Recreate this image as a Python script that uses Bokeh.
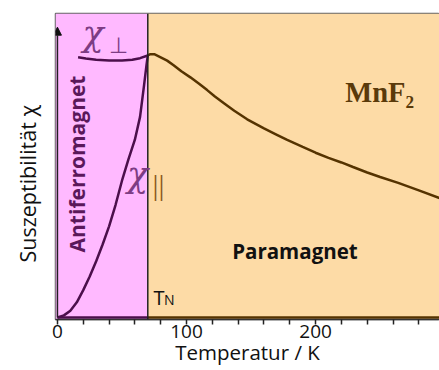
from math import pi
from bokeh.plotting import figure
from bokeh.models import Range1d, Label, Arrow, NormalHead, Span, FixedTicker, Title
from bokeh.embed import file_html
from bokeh.resources import INLINE

# ---- data ----
T_N = 70
x_min, x_max = -1.5, 296
y_min, y_max = -0.0066, 1
x_ticks = [0, 100, 200]
x_minor = [20, 40, 60, 80, 120, 140, 160, 180, 220, 240, 260, 280]

chi_par_T = [0, 5, 10, 15, 20, 25, 30, 35, 40, 45, 50, 55, 60, 64, 67, 69, 70]
chi_par = [0, 0.007, 0.022, 0.050, 0.090, 0.135, 0.185, 0.240, 0.300, 0.370,
           0.450, 0.520, 0.585, 0.660, 0.760, 0.830, 0.862]

chi_perp_T = [16, 22, 30, 40, 50, 58, 64, 70]
chi_perp = [0.856, 0.852, 0.848, 0.845, 0.845, 0.848, 0.853, 0.862]

para_T = [70, 72, 75, 80, 85, 90, 96, 103, 110, 116, 122, 129, 137, 147, 160,
          170, 178, 190, 200, 210, 220, 229, 240, 250, 264, 280, 296]
para = [0.862, 0.866, 0.866, 0.856, 0.845, 0.830, 0.810, 0.790, 0.768, 0.748,
        0.727, 0.705, 0.680, 0.652, 0.622, 0.601, 0.584, 0.561, 0.542, 0.525,
        0.510, 0.495, 0.477, 0.462, 0.443, 0.418, 0.393]

PINK = "#ffb9ff"
ORANGE = "#fddba6"
PURPLE = "#4b0f4b"
BROWN = "#553300"
LABEL_PURPLE = "#7d3c84"

p = figure(frame_width=384, frame_height=306,
           x_range=Range1d(x_min, x_max), y_range=Range1d(y_min, y_max),
           output_backend="svg", toolbar_location=None,
           min_border_left=55, min_border_right=0, min_border_top=13,
           min_border_bottom=0)
p.background_fill_color = "white"
p.border_fill_color = "white"
p.outline_line_color = "#666666"
p.outline_line_width = 1.5
p.grid.visible = False
p.yaxis.visible = False

# background regions
p.quad(left=[x_min], right=[T_N], bottom=[y_min], top=[y_max], fill_color=PINK, line_color=None)
p.quad(left=[T_N], right=[x_max], bottom=[y_min], top=[y_max], fill_color=ORANGE, line_color=None)

p.add_layout(Span(location=T_N, dimension="height", line_color="#222222", line_width=1.5))

# curves
p.line(chi_par_T, chi_par, line_color=PURPLE, line_width=2.5)
p.line(chi_perp_T, chi_perp, line_color=PURPLE, line_width=2.5)
p.line(para_T, para, line_color=BROWN, line_width=2.5)

# coloured bottom line
p.segment(x0=[0], y0=[0], x1=[T_N], y1=[0], line_color=PURPLE, line_width=2.5)
p.segment(x0=[T_N], y0=[0], x1=[x_max], y1=[0], line_color=BROWN, line_width=2.5)

# y axis arrow
p.add_layout(Arrow(end=NormalHead(size=8, fill_color="#111111", line_color="#111111"),
                   x_start=0, y_start=0, x_end=0, y_end=0.955,
                   line_color="#222222", line_width=1.5))

# x axis
xa = p.xaxis[0]
xa.ticker = FixedTicker(ticks=x_ticks, minor_ticks=x_minor)
xa.axis_line_color = "#333333"
xa.axis_line_width = 1.5
xa.major_tick_in = 0
xa.major_tick_out = 5
xa.minor_tick_in = 0
xa.minor_tick_out = 5
xa.major_tick_line_color = "#222222"
xa.minor_tick_line_color = "#222222"
xa.major_tick_line_width = 1.5
xa.minor_tick_line_width = 1.5
xa.major_label_text_font = "Open Sans"
xa.major_label_text_font_size = "19px"
xa.major_label_text_color = "#111111"
xa.major_label_standoff = 0
xa.axis_label = "Temperatur / K"
xa.axis_label_text_font = "Open Sans"
xa.axis_label_text_font_size = "20.5px"
xa.axis_label_text_font_style = "normal"
xa.axis_label_text_color = "#111111"
xa.axis_label_standoff = -3

# y axis label as a left title
p.add_layout(Title(text="Suszeptibilität χ", align="left", offset=57, standoff=24,
                   vertical_align="top",
                   text_font="Open Sans", text_font_size="21.5px",
                   text_font_style="normal", text_color="#111111"), "left")

# annotations
p.add_layout(Label(x=19.5, y=0.932, text="χ", text_font="DejaVu Serif",
                   text_font_style="italic", text_font_size="35px",
                   text_color=LABEL_PURPLE, text_baseline="alphabetic"))
p.add_layout(Label(x=40.0, y=0.895, text="⊥", text_font="DejaVu Sans",
                   text_font_size="22px", text_color=LABEL_PURPLE,
                   text_baseline="alphabetic"))
p.add_layout(Label(x=53.8, y=0.47, text="χ", text_font="DejaVu Serif",
                   text_font_style="italic", text_font_size="35px",
                   text_color=LABEL_PURPLE, text_baseline="alphabetic"))
p.add_layout(Label(x=73.6, y=0.437, text="||", text_font="Liberation Serif",
                   text_font_size="30px", text_color="#8b5a1e",
                   text_baseline="alphabetic"))
p.add_layout(Label(x=15.5, y=0.505, text="Antiferromagnet", angle=pi / 2,
                   text_align="center", text_baseline="alphabetic",
                   text_font="Open Sans", text_font_style="bold",
                   text_font_size="21px", text_color="#5a185a"))
p.add_layout(Label(x=184, y=0.22, text="Paramagnet", text_align="center",
                   text_baseline="alphabetic", text_font="Open Sans",
                   text_font_style="bold", text_font_size="20.5px",
                   text_color="#111111"))
p.add_layout(Label(x=223, y=0.74, text="MnF₂", text_baseline="alphabetic",
                   text_font="Liberation Serif", text_font_style="bold",
                   text_font_size="28.5px", text_color="#5a3a0a"))
p.add_layout(Label(x=74.5, y=0.066, text="T", text_baseline="alphabetic",
                   text_font="Open Sans", text_font_size="20px", text_color="#111111"))
p.add_layout(Label(x=82.5, y=0.060, text="N", text_baseline="alphabetic",
                   text_font="Open Sans", text_font_size="14px", text_color="#111111"))

open("out.html", "w").write(file_html(p, INLINE))
